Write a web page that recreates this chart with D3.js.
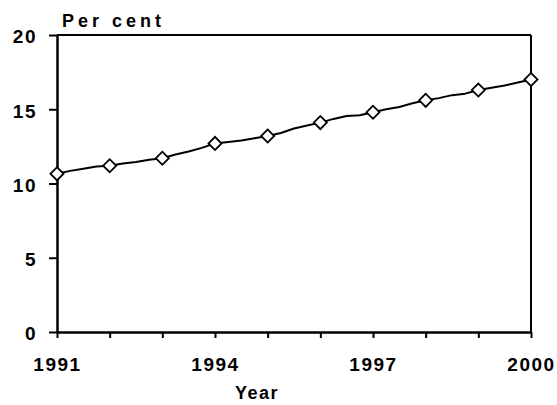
<!DOCTYPE html>
<html>
<head>
<meta charset="utf-8">
<script src="https://cdn.jsdelivr.net/npm/d3@7/dist/d3.min.js"></script>
<style>
  html, body { margin: 0; padding: 0; background: #fff; }
  svg { display: block; }
  svg text { font-family: "Liberation Sans", Arial, sans-serif !important; font-weight: 700 !important; fill: #000; }
</style>
</head>
<body>
<svg id="chart" width="557" height="405"></svg>
<script>
// Annual observations (diamond markers)
const years = [1991, 1992, 1993, 1994, 1995, 1996, 1997, 1998, 1999, 2000];
const yearValues = [10.65, 11.2, 11.7, 12.7, 13.2, 14.1, 14.8, 15.6, 16.3, 17.0];

// Quarterly line
const quarters = [
  1991, 1991.25, 1991.5, 1991.75,
  1992, 1992.25, 1992.5, 1992.75,
  1993, 1993.25, 1993.5, 1993.75,
  1994, 1994.25, 1994.5, 1994.75,
  1995, 1995.25, 1995.5, 1995.75,
  1996, 1996.25, 1996.5, 1996.75,
  1997, 1997.25, 1997.5, 1997.75,
  1998, 1998.25, 1998.5, 1998.75,
  1999, 1999.25, 1999.5, 1999.75,
  2000
];
const quarterValues = [
  10.65, 10.85, 11.0, 11.15,
  11.2, 11.35, 11.45, 11.6,
  11.7, 11.95, 12.15, 12.4,
  12.7, 12.8, 12.9, 13.05,
  13.2, 13.4, 13.7, 13.9,
  14.1, 14.35, 14.55, 14.6,
  14.8, 15.0, 15.15, 15.4,
  15.6, 15.75, 15.95, 16.05,
  16.3, 16.45, 16.6, 16.8,
  17.0
];

const yTicks = [0, 5, 10, 15, 20];
const xTicks = [1991, 1992, 1993, 1994, 1995, 1996, 1997, 1998, 1999, 2000];
const xTickLabels = [1991, 1994, 1997, 2000];
const yTitle = "Per cent";
const xTitle = "Year";

const mLeft = 57, mRight = 531, mTop = 35, mBottom = 332;
const svg = d3.select("#chart");
const x = d3.scaleLinear().domain([1991, 2000]).range([mLeft, mRight]);
const y = d3.scaleLinear().domain([0, 20]).range([mBottom, mTop]);

// frame: top and right borders
svg.append("line").attr("x1", mLeft).attr("x2", mRight).attr("y1", mTop).attr("y2", mTop)
  .attr("stroke", "#000").attr("stroke-width", 2);
svg.append("line").attr("x1", mRight).attr("x2", mRight).attr("y1", mTop).attr("y2", mBottom)
  .attr("stroke", "#000").attr("stroke-width", 2);

// y axis
const yAxis = d3.axisLeft(y).tickValues(yTicks).tickSize(8).tickSizeOuter(0).tickPadding(12).tickFormat(d3.format("d"));
const gy = svg.append("g").attr("transform", `translate(${mLeft},0)`).call(yAxis);
gy.attr("font-family", null).attr("font-size", null);
gy.select(".domain").attr("stroke-width", 2.5);
gy.selectAll(".tick line").attr("stroke-width", 2);
gy.selectAll(".tick text").style("font-size", "19px").attr("letter-spacing", 1.5).attr("dy", "0.42em");

// x axis
const xAxis = d3.axisBottom(x).tickValues(xTicks).tickSize(6).tickSizeOuter(0)
  .tickFormat(d => xTickLabels.includes(d) ? String(d) : "").tickPadding(20);
const gx = svg.append("g").attr("transform", `translate(0,${mBottom})`).call(xAxis);
gx.attr("font-family", null).attr("font-size", null);
gx.select(".domain").attr("stroke-width", 2.5);
gx.selectAll(".tick line").attr("stroke-width", 2);
gx.selectAll(".tick text").style("font-size", "19px").attr("letter-spacing", 1.5);

// titles
svg.append("text").attr("x", 62).attr("y", 27).style("font-size", "18px").attr("letter-spacing", 4).text(yTitle);
svg.append("text").attr("x", 257).attr("y", 399).attr("text-anchor", "middle")
  .style("font-size", "18px").attr("letter-spacing", 1.5).text(xTitle);

// line
const line = d3.line().x((d, i) => x(quarters[i])).y(d => y(d));
svg.append("path").datum(quarterValues).attr("d", line)
  .attr("fill", "none").attr("stroke", "#000").attr("stroke-width", 2).attr("stroke-linejoin", "round");

// diamonds
const sym = d3.symbol().type(d3.symbolSquare).size(85);
svg.selectAll("path.marker").data(yearValues).enter().append("path")
  .attr("class", "marker")
  .attr("d", sym)
  .attr("transform", (d, i) => `translate(${x(years[i])},${y(d)}) rotate(45)`)
  .attr("fill", "#fff").attr("stroke", "#000").attr("stroke-width", 1.8);
</script>
</body>
</html>
